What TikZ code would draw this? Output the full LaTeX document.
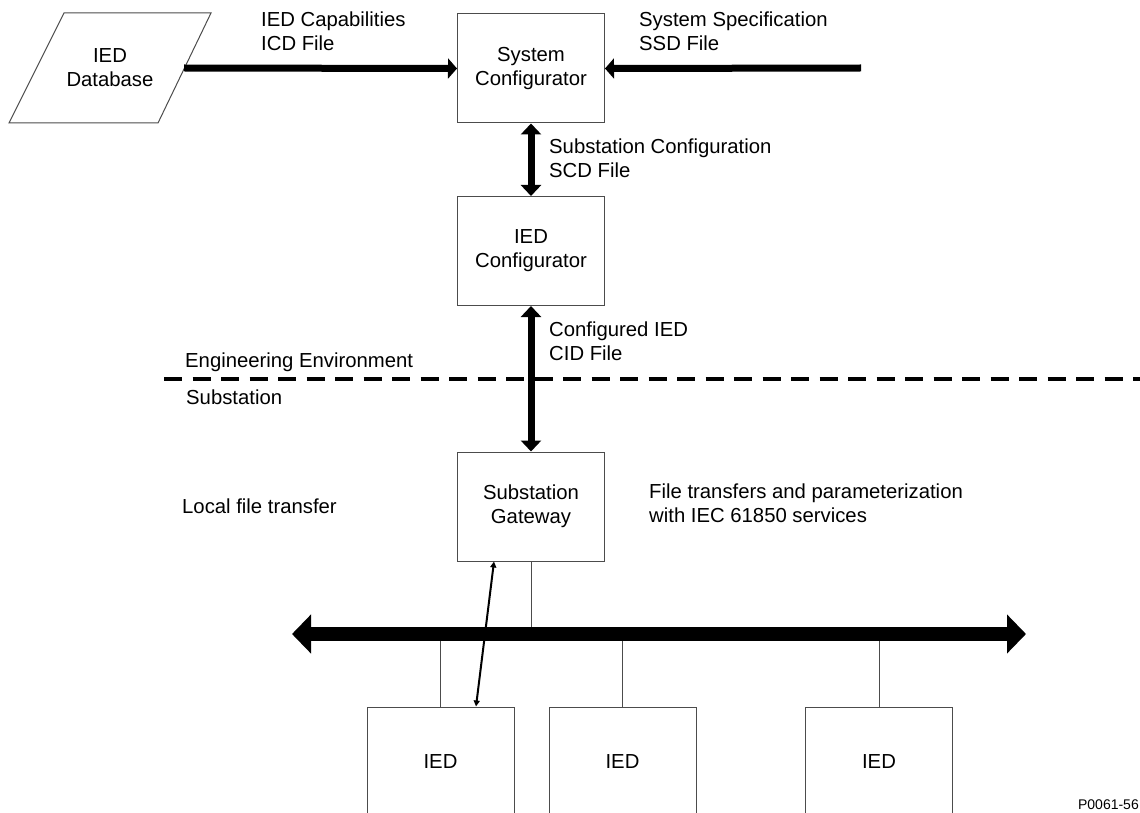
\documentclass[tikz,border=0pt]{standalone}
\usepackage{fontspec}
\setmainfont{Liberation Sans}
\usetikzlibrary{arrows.meta,calc,positioning}

\begin{document}
\begin{tikzpicture}[x=1pt,y=-1pt,
  every node/.style={font=\fontsize{20.3}{24}\selectfont},
  blk/.style={draw=black!70,line width=1pt,minimum width=147pt,minimum height=109pt,align=center,inner sep=0pt},
  note/.style={anchor=north west,align=left,inner sep=0pt},
  fat/.style={line width=7pt,-{Triangle[length=9pt,width=20pt]}},
  fatboth/.style={line width=7pt,{Triangle[length=11pt,width=20pt]}-{Triangle[length=11pt,width=20pt]}},
  tap/.style={draw=black!70,line width=1pt}]
  \useasboundingbox (0,0) rectangle (1140,813);
  \clip (0,0) rectangle (1140,813);
  % blocks
  \node (db) at (110,68) [align=center] {IED\\Database};
  \draw[tap] (64,13) -- (211,13) -- (158,123) -- (9,123) -- cycle;
  \node[blk] (syscfg) at (531,68.5) {System\\Configurator};
  \node[blk] (iedcfg) at (531,251) {IED\\Configurator};
  \node[blk] (gw) at (531,506.5) {Substation\\Gateway};
  \node[blk,minimum height=110pt] (ied1) at (440.5,762) {IED};
  \node[blk,minimum height=110pt] (ied2) at (622.5,762) {IED};
  \node[blk,minimum height=110pt] (ied3) at (879,762) {IED};
  \coordinate (dbout) at (184,68);
  \coordinate (ssdin) at (861,68);
  \coordinate (busL) at (292,634);
  \coordinate (busR) at (1026,634);
  \coordinate (envL) at (164,378.5);
  \coordinate (envR) at (1140,378.5);
  % labels
  \node[note] (icd) at (261,11.5) {IED Capabilities\\ICD File};
  \node[note] (ssd) at (639,11.5) {System Specification\\SSD File};
  \node[note] (scd) at (549,138.5) {Substation Configuration\\SCD File};
  \node[note] (cid) at (549,321.5) {Configured IED\\CID File};
  \node[note] (eng) at (185,352.5) {Engineering Environment};
  \node[note] (sub) at (186,389.5) {Substation};
  \node[note] (local) at (182,498.5) {Local file transfer};
  \node[note] (mms) at (649,483.5) {File transfers and parameterization\\with IEC 61850 services};
  \node[anchor=base east,inner sep=0pt,font=\fontsize{14}{16}\selectfont] (fig) at (1139,809) {P0061-56};
  % connectors
  \draw[fat] (dbout) -- (syscfg.west);
  \draw[fat] (ssdin) -- (syscfg.east);
  \draw[fatboth] (syscfg.south) -- (iedcfg.north);
  \draw[line width=4pt,dash pattern=on 18pt off 10.5pt] (envL) -- (envR);
  \draw[fatboth] (iedcfg.south) -- (gw.north);
  \draw[tap] (gw.south) -- (gw.south |- busL);
  \draw[tap] (ied1.north) -- (ied1.north |- busL);
  \draw[tap] (ied2.north) -- (ied2.north |- busL);
  \draw[tap] (ied3.north) -- (ied3.north |- busL);
  \draw[line width=14pt,{Triangle[length=19pt,width=38pt]}-{Triangle[length=19pt,width=38pt]}] (busL) -- (busR);
  \draw[line width=2pt,{Triangle[length=6pt,width=6pt]}-{Triangle[length=6pt,width=6pt]}] ([xshift=-37pt]gw.south) -- ([xshift=35.5pt]ied1.north);
\end{tikzpicture}
\end{document}
